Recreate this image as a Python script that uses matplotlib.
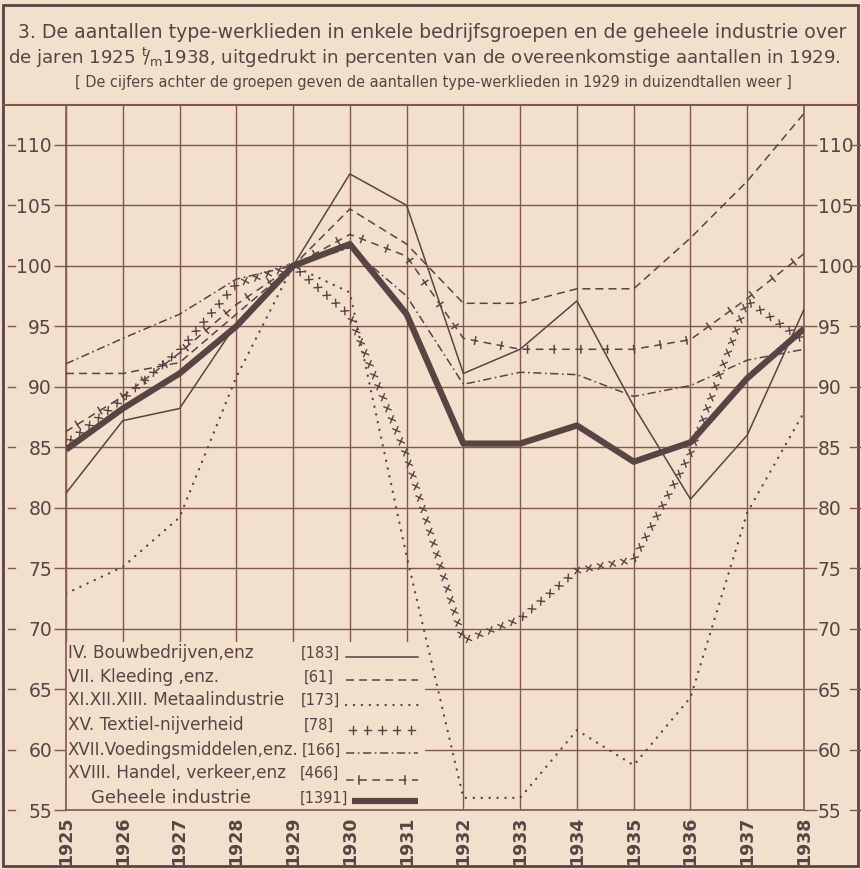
import matplotlib
matplotlib.use('Agg')
import matplotlib.pyplot as plt
import matplotlib.patheffects as pe
from matplotlib.lines import Line2D
from matplotlib.patches import Rectangle
from matplotlib.transforms import blended_transform_factory

plt.rcParams['font.family'] = ['DejaVu Sans']
plt.rcParams['lines.scale_dashes'] = False
plt.rcParams['mathtext.default'] = 'regular'

# ---------------- data ----------------
years = list(range(1925, 1939))
bouw    = [81.2, 87.2, 88.2, 95.2, 100, 107.6, 105.0, 91.1, 93.1, 97.1, 88.4, 80.7, 86.0, 96.4]
kleding = [91.1, 91.1, 92.0, 96.0, 100, 104.7, 101.8, 96.9, 96.9, 98.1, 98.1, 102.3, 107.0, 112.6]
metaal  = [72.9, 75.1, 79.2, 90.8, 100, 97.8, 76.0, 56.0, 56.0, 61.6, 58.7, 64.3, 79.6, 87.9]
textiel = [85.3, 89.0, 93.0, 98.5, 100, 95.9, 84.3, 69.0, 70.8, 74.8, 75.7, 84.5, 97.1, 93.8]
voeding = [91.9, 94.0, 96.0, 98.9, 100, 101.5, 97.5, 90.2, 91.2, 91.0, 89.2, 90.1, 92.2, 93.1]
handel  = [86.3, 89.2, 92.8, 96.8, 100, 102.6, 100.8, 94.0, 93.1, 93.1, 93.1, 93.9, 97.3, 101.0]
geheel  = [84.8, 88.2, 91.1, 95.0, 100, 101.8, 96.0, 85.3, 85.3, 86.8, 83.8, 85.4, 90.7, 94.8]

legend_names = ["IV. Bouwbedrijven,enz", "VII. Kleeding ,enz.", "XI.XII.XIII. Metaalindustrie",
                "XV. Textiel-nijverheid", "XVII.Voedingsmiddelen,enz.", "XVIII. Handel, verkeer,enz",
                "Geheele industrie"]
legend_counts = ["[183]", "[61]", "[173]", "[78]", "[166]", "[466]", "[1391]"]
yticks = list(range(55, 111, 5))

title1 = "3. De aantallen type-werklieden in enkele bedrijfsgroepen en de geheele industrie over"
title2 = "de jaren 1925 $^{t}\\!/_{m}$1938, uitgedrukt in percenten van de overeenkomstige aantallen in 1929."
title3 = "[ De cijfers achter de groepen geven de aantallen type-werklieden in 1929 in duizendtallen weer ]"

# ---------------- style ----------------
BG = '#f2dfcc'
INK = '#574543'
GRID = '#80594c'
W, H = 862, 869

fig = plt.figure(figsize=(W / 100, H / 100), dpi=100, facecolor=BG)
ax = fig.add_axes([66 / W, 1 - 810 / H, (804 - 66) / W, (810 - 105) / H])
ax.set_facecolor(BG)
ax.set_xlim(1925, 1938)
ax.set_ylim(55, 113.3)
ax.set_xticks(years)
ax.set_xticklabels([str(y) for y in years], rotation=90, fontsize=12.5,
                   fontweight='bold', color=INK)
ax.set_yticks(yticks)
ax.tick_params(axis='x', length=0, pad=5)
ax.tick_params(axis='y', left=True, right=True, labelleft=True, labelright=True,
               length=9, width=1.0, color=GRID, labelsize=13.5, labelcolor=INK, pad=1)
ax.grid(True, color=GRID, lw=1.0)
ax.set_axisbelow(True)
for s in ax.spines.values():
    s.set_color(GRID)
    s.set_linewidth(1.2)

# small dashes outside tick labels
bt = blended_transform_factory(fig.transFigure, ax.transData)
for v in yticks:
    fig.add_artist(Line2D([8 / W, 15 / W], [v, v], transform=bt, color=GRID, lw=1.0))
    fig.add_artist(Line2D([850 / W, 860 / W], [v, v], transform=bt, color=GRID, lw=1.0))

# legend box (blanks the grid)
ax.add_patch(Rectangle((1925, 55), 6.32, 13.9, facecolor=BG, edgecolor='none', zorder=1))


def cross_effects(spacing, length, angles):
    return [pe.TickedStroke(spacing=spacing, length=length, angle=a) for a in angles]


def draw(xs, ys, kind, **kw):
    c = dict(color=INK, **kw)
    if kind == 'bouw':
        ax.plot(xs, ys, lw=1.1, **c)
    elif kind == 'kleding':
        ax.plot(xs, ys, lw=1.1, ls=(0, (5.8, 3.6)), **c)
    elif kind == 'metaal':
        ax.plot(xs, ys, lw=1.7, ls=(0, (0.1, 5.6)), dash_capstyle='round', **c)
    elif kind == 'textiel':
        ax.plot(xs, ys, lw=1.0,
                path_effects=cross_effects(8.5, 0.32, [45, 135, -45, -135]), **c)
    elif kind == 'textiel_leg':
        ax.plot(xs, ys, lw=1.0,
                path_effects=cross_effects(9.5, 0.28, [0, 90, 180, -90]), **c)
    elif kind == 'voeding':
        ax.plot(xs, ys, lw=1.1, ls=(0, (6, 2.5, 1.2, 2.5)), **c)
    elif kind == 'handel':
        ax.plot(xs, ys, lw=1.1, ls=(0, (5.5, 4.0)), **c)
        ax.plot(xs, ys, lw=1.1,
                path_effects=cross_effects(19, 0.14, [90, -90]), **c)
    elif kind == 'geheel':
        ax.plot(xs, ys, lw=4.5, solid_capstyle='butt', **c)


kinds = ['bouw', 'kleding', 'metaal', 'textiel', 'voeding', 'handel', 'geheel']
data = [bouw, kleding, metaal, textiel, voeding, handel, geheel]
for k, d in zip(kinds, data):
    draw(years, d, k, zorder=3)

renderer = fig.canvas.get_renderer()


def fit_ax(x0, x1, yc, s, size, lo=10.0, hi=12.2):
    """place text in axes fraction, fitted to pixel span x0..x1"""
    t = ax.text((x0 - 66) / 738, (810 - yc) / 705, s, transform=ax.transAxes,
                fontsize=size, color=INK, va='center', ha='left', zorder=4)
    w = t.get_window_extent(renderer).width
    t.set_fontsize(max(lo, min(size * (x1 - x0) / w, hi)))
    return t


# legend (pixel spans measured on the reference)
name_span = [(68, 270), (68, 240), (68, 290), (68, 262), (68, 298), (68, 297), (91, 290)]
name_hi = [12.2, 12.2, 12.2, 12.2, 12.2, 12.2, 13.0]
cnt_x = [301, 304, 301, 304, 302, 300, 300]
row_yc = [653, 677, 700, 725, 750, 773, 798]
line_yc = [657, 680, 705, 730, 753, 780, 801]
for i, (name, cnt, k) in enumerate(zip(legend_names, legend_counts, kinds)):
    fit_ax(name_span[i][0], name_span[i][1], row_yc[i], name, 12.0, hi=name_hi[i])
    ax.text((cnt_x[i] - 66) / 738, (810 - row_yc[i]) / 705, cnt, transform=ax.transAxes,
            fontsize=10.5, color=INK, va='center', ha='left', zorder=4)
    lk = 'textiel_leg' if k == 'textiel' else k
    ly = (810 - line_yc[i]) / 705
    x0 = 352 if k == 'geheel' else 346
    draw([(x0 - 66) / 738, (418 - 66) / 738], [ly, ly], lk, transform=ax.transAxes,
         clip_on=False, zorder=4)

# frame and top rule
fig.add_artist(Rectangle((3 / W, 1 - 866 / H), 855 / W, 861 / H, transform=fig.transFigure,
                         fill=False, lw=2.0, ec=INK))
fig.add_artist(Line2D([3 / W, 858 / W], [1 - 105 / H] * 2, transform=fig.transFigure,
                      color=GRID, lw=1.5))


def fit(x0, x1, yc, s, size):
    t = fig.text(x0 / W, 1 - yc / H, s, fontsize=size, color=INK, va='center', ha='left')
    w = t.get_window_extent(renderer).width
    t.set_fontsize(size * (x1 - x0) / w)
    return t


fit(18, 850, 33, title1, 14)
fit(8, 843, 58, title2, 14)
fit(75, 790, 82, title3, 10)

fig.savefig('out.png', dpi=100, facecolor=BG)
